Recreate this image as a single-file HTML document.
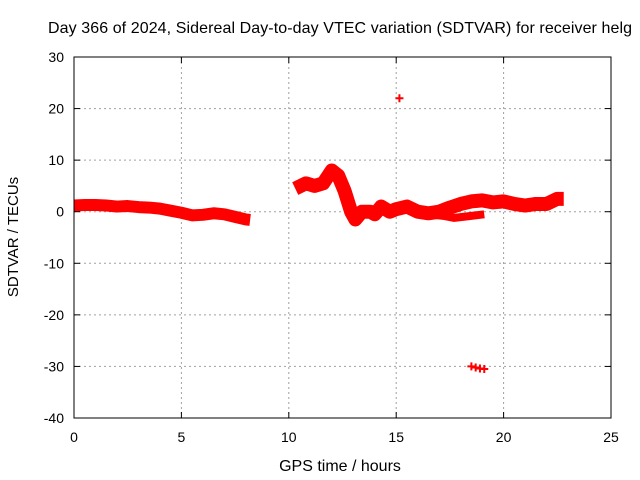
<!DOCTYPE html>
<html><head><meta charset="utf-8"><style>
body{margin:0;background:#fff}
svg{display:block;font-family:"Liberation Sans",sans-serif}
</style></head><body>
<svg id="chart" width="640" height="480">
<text x="340" y="33" text-anchor="middle" font-size="16" textLength="584">Day 366 of 2024, Sidereal Day-to-day VTEC variation (SDTVAR) for receiver helg</text>
<text x="340" y="471" text-anchor="middle" font-size="16">GPS time / hours</text>
<text transform="translate(18,237) rotate(-90)" text-anchor="middle" font-size="15">SDTVAR / TECUs</text>
<g id="grid"></g><g id="marks"></g><g id="axes"></g>
</svg>
<script>
const xTicks=[0,5,10,15,20,25];
const yTicks=[30,20,10,0,-10,-20,-30,-40];
const seg1Hours=[0,0.5,1,1.5,2,2.5,3,3.5,4,4.5,5,5.5,6,6.5,7,7.5,8,8.2];
const seg1Values=[1.2,1.3,1.3,1.2,1.0,1.1,0.9,0.8,0.6,0.2,-0.2,-0.7,-0.6,-0.3,-0.5,-1.0,-1.5,-1.6];
const seg2Hours=[10.3,10.8,11.2,11.6,12,12.3,12.6,12.9,13.1,13.4,13.8,14,14.3,14.7,15,15.5,16,16.5,17,17.5,18,18.5,19,19.5,20,20.5,21,21.5,22,22.5,22.8];
const seg2Values=[4.5,5.5,5.0,5.5,8,7,4,0,-1.5,0,0,-0.5,1,0,0.5,1,0,-0.3,0,0.8,1.5,2,2.2,1.8,2,1.5,1.2,1.5,1.5,2.5,2.5];
const seg3Hours=[16.5,17.2,17.7,18.3,19.1];
const seg3Values=[-0.5,-0.8,-1.2,-0.9,-0.5];
const outlierHours=[15.15,18.5,18.7,18.9,19.1];
const outlierValues=[22,-30,-30.2,-30.4,-30.5];
const L=74,R=611,T=57,B=418,xMin=0,xMax=25,yMin=-40,yMax=30;
const sx=h=>L+(h-xMin)/(xMax-xMin)*(R-L);
const sy=v=>B-(v-yMin)/(yMax-yMin)*(B-T);
const NS="http://www.w3.org/2000/svg";
function mk(tag,attrs,parent){const e=document.createElementNS(NS,tag);for(const k in attrs)e.setAttribute(k,attrs[k]);parent.appendChild(e);return e;}
const grid=document.getElementById('grid'),marks=document.getElementById('marks'),axes=document.getElementById('axes');
xTicks.forEach(t=>{
 if(t>xMin&&t<xMax){const g=mk('line',{x1:sx(t),x2:sx(t),y1:T,y2:B,stroke:'#a0a0a0','stroke-dasharray':'2,3'},grid);
 
 }
 const tl=mk('text',{x:sx(t),y:B+24,'text-anchor':'middle','font-size':14},axes);tl.textContent=t;
 
 
 mk('line',{x1:sx(t),x2:sx(t),y1:B,y2:B-6,stroke:'#000'},axes);
 mk('line',{x1:sx(t),x2:sx(t),y1:T,y2:T+6,stroke:'#000'},axes);
});
yTicks.forEach(t=>{
 if(t>yMin&&t<yMax){const g=mk('line',{x1:L,x2:R,y1:sy(t),y2:sy(t),stroke:'#a0a0a0','stroke-dasharray':'2,3'},grid);
 
 }
 const tl=mk('text',{x:L-10,y:sy(t)+5,'text-anchor':'end','font-size':14},axes);tl.textContent=t;
 
 
 mk('line',{x1:L,x2:L+6,y1:sy(t),y2:sy(t),stroke:'#000'},axes);
 mk('line',{x1:R,x2:R-6,y1:sy(t),y2:sy(t),stroke:'#000'},axes);
});
const fr=mk('rect',{x:L,y:T,width:R-L,height:B-T,fill:'none',stroke:'#000'},axes);


function band(hs,vs,w,name){
 const p=mk('polyline',{points:hs.map((h,i)=>sx(h)+','+sy(vs[i])).join(' '),fill:'none',stroke:'#f00','stroke-width':w,'stroke-linejoin':'round','stroke-linecap':'butt'},marks);
 
 
}
band(seg1Hours,seg1Values,12,'sdtvar-band-morning');
band(seg2Hours,seg2Values,14,'sdtvar-band-afternoon');
band(seg3Hours,seg3Values,8,'sdtvar-band-lower-branch');
outlierHours.forEach((h,i)=>{
 const x=sx(h),y=sy(outlierValues[i]);
 const p=mk('path',{d:`M${x-4},${y}H${x+4}M${x},${y-4}V${y+4}`,stroke:'#f00','stroke-width':2},marks);
 
 
});
</script>
</body></html>
